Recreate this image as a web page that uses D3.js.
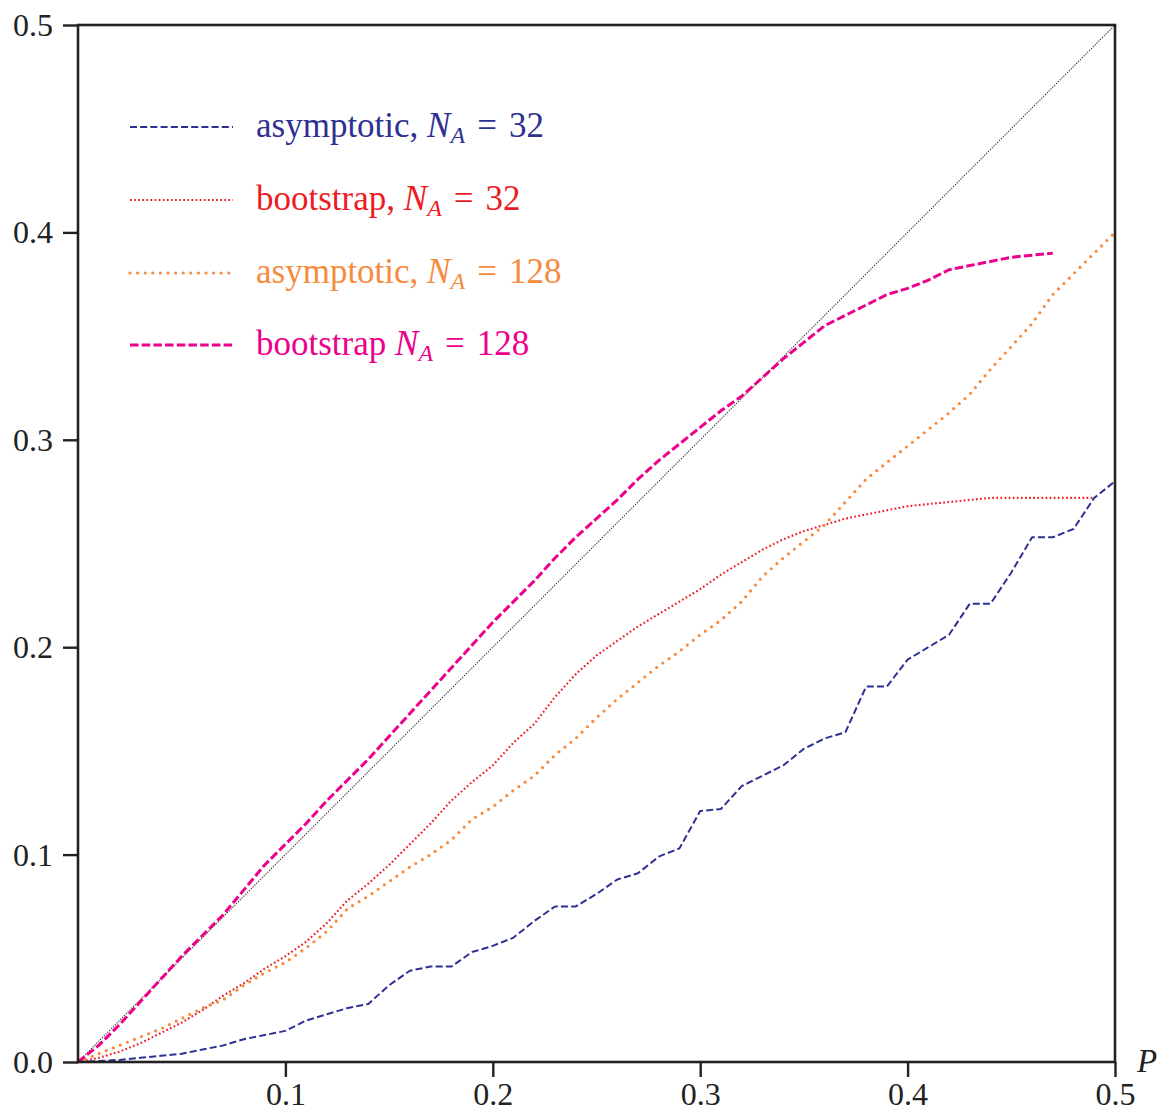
<!DOCTYPE html>
<html>
<head>
<meta charset="utf-8">
<script src="https://cdn.jsdelivr.net/npm/d3@7"></script>
<style>
  html, body { margin: 0; padding: 0; background: #fff; }
  svg { display: block; }
  text { font-family: "Liberation Serif", "DejaVu Serif", serif; }
</style>
</head>
<body>
<svg id="chart" width="1170" height="1115"></svg>
<script>
// ---- data ----
const pValues = [0.00,0.01,0.02,0.03,0.04,0.05,0.06,0.07,0.08,0.09,
                 0.10,0.11,0.12,0.13,0.14,0.15,0.16,0.17,0.18,0.19,
                 0.20,0.21,0.22,0.23,0.24,0.25,0.26,0.27,0.28,0.29,
                 0.30,0.31,0.32,0.33,0.34,0.35,0.36,0.37,0.38,0.39,
                 0.40,0.41,0.42,0.43,0.44,0.45,0.46,0.47,0.48,0.49,0.50];

const asymptotic32 = [0.000,0.0005,0.001,0.002,0.003,0.004,0.006,0.008,0.011,0.013,
                      0.015,0.020,0.023,0.026,0.028,0.037,0.044,0.046,0.046,0.053,
                      0.056,0.060,0.068,0.075,0.075,0.081,0.088,0.091,0.099,0.103,
                      0.121,0.122,0.133,0.138,0.143,0.151,0.156,0.159,0.181,0.181,
                      0.194,0.200,0.206,0.221,0.221,0.236,0.253,0.253,0.257,0.272,0.280];

const bootstrap32 = [0.000,0.002,0.005,0.009,0.014,0.019,0.025,0.032,0.038,0.045,
                     0.051,0.058,0.067,0.078,0.086,0.095,0.105,0.115,0.126,0.135,
                     0.143,0.154,0.163,0.176,0.187,0.196,0.203,0.210,0.216,0.222,
                     0.228,0.235,0.241,0.247,0.252,0.256,0.259,0.262,0.264,0.266,
                     0.268,0.269,0.270,0.271,0.272,0.272,0.272,0.272,0.272,0.272];

const asymptotic128 = [0.000,0.004,0.008,0.012,0.016,0.021,0.026,0.030,0.037,0.043,
                       0.048,0.055,0.063,0.074,0.080,0.087,0.094,0.100,0.107,0.117,
                       0.123,0.131,0.138,0.148,0.156,0.166,0.175,0.183,0.191,0.198,
                       0.206,0.213,0.222,0.234,0.243,0.251,0.259,0.270,0.281,0.289,
                       0.297,0.305,0.313,0.322,0.334,0.345,0.356,0.370,0.380,0.390,0.400];

const bootstrap128 = [0.000,0.008,0.018,0.029,0.040,0.051,0.061,0.071,0.083,0.095,
                      0.105,0.115,0.126,0.136,0.146,0.157,0.168,0.179,0.190,0.201,
                      0.212,0.222,0.232,0.243,0.253,0.262,0.271,0.281,0.290,0.298,
                      0.306,0.314,0.321,0.330,0.339,0.347,0.355,0.360,0.365,0.370,
                      0.373,0.377,0.382,0.384,0.386,0.388,0.389,0.390];

const diagonalP = [0, 0.5];
const diagonalV = [0, 0.5];

const xTicks = [0.1, 0.2, 0.3, 0.4, 0.5];
const yTicks = [0.0, 0.1, 0.2, 0.3, 0.4, 0.5];

const seriesNames = ["asymptotic, ", "bootstrap, ", "asymptotic, ", "bootstrap "];
const seriesN = ["32", "32", "128", "128"];
const seriesColors = ["#2e3192", "#ed1c24", "#f68b3e", "#ec008c"];

// ---- layout ----
const svg = d3.select("#chart");
const plotLeft = 78, plotRight = 1115, plotTop = 25, plotBottom = 1062;
const x = d3.scaleLinear().domain([0, 0.5]).range([plotLeft, plotRight]);
const y = d3.scaleLinear().domain([0, 0.5]).range([plotBottom, plotTop]);

const line = d3.line().x(d => x(d[0])).y(d => y(d[1]));
const pair = (vals) => vals.map((v, i) => [pValues[i], v]);

const styles = [
  { color: seriesColors[0], width: 2.0, dash: "7,3.2", cap: "butt" },
  { color: seriesColors[1], width: 2.1, dash: "1.7,2.4", cap: "butt" },
  { color: seriesColors[2], width: 3.2, dash: "0,7.6", cap: "round" },
  { color: seriesColors[3], width: 3.0, dash: "8.5,3.2", cap: "butt" }
];
const seriesData = [asymptotic32, bootstrap32, asymptotic128, bootstrap128];

// diagonal reference
svg.append("path")
  .datum(diagonalP.map((p, i) => [p, diagonalV[i]]))
  .attr("d", line)
  .attr("fill", "none")
  .attr("stroke", "#444")
  .attr("stroke-width", 1.2)
  .attr("stroke-dasharray", "1.3,1.3");

// series
seriesData.forEach((vals, i) => {
  const s = styles[i];
  svg.append("path")
    .datum(pair(vals))
    .attr("d", line)
    .attr("fill", "none")
    .attr("stroke", s.color)
    .attr("stroke-width", s.width)
    .attr("stroke-dasharray", s.dash)
    .attr("stroke-linecap", s.cap)
    .attr("stroke-linejoin", "round");
});

// axes
const axisColor = "#222";
const xAxis = svg.append("g")
  .attr("transform", `translate(0,${plotBottom})`)
  .call(d3.axisBottom(x).tickValues(xTicks).tickFormat(d3.format(".1f")).tickSize(15).tickPadding(6));
const yAxis = svg.append("g")
  .attr("transform", `translate(${plotLeft},0)`)
  .call(d3.axisLeft(y).tickValues(yTicks).tickFormat(d3.format(".1f")).tickSize(15).tickPadding(10));
[xAxis, yAxis].forEach(g => {
  g.select(".domain").remove();
  g.selectAll(".tick line").attr("stroke", axisColor).attr("stroke-width", 2.4);
  g.selectAll(".tick text")
    .attr("fill", "#222")
    .style("font-family", "'Liberation Serif', serif")
    .style("font-size", "32px");
});
xAxis.selectAll(".tick text").attr("dy", "0.7em");
yAxis.selectAll(".tick text").attr("dy", "0.33em");

// frame
svg.append("rect")
  .attr("x", plotLeft).attr("y", plotTop)
  .attr("width", plotRight - plotLeft).attr("height", plotBottom - plotTop)
  .attr("fill", "none")
  .attr("stroke", axisColor)
  .attr("stroke-width", 2.6);

// axis label P
svg.append("text")
  .attr("x", 1137).attr("y", 1072)
  .attr("font-size", 33)
  .attr("font-style", "italic")
  .attr("fill", "#222")
  .text("P");

// legend
const legendRows = [127, 200, 273, 345];
legendRows.forEach((ly, i) => {
  const s = styles[i];
  svg.append("path")
    .datum([[130, ly], [233, ly]])
    .attr("d", d3.line())
    .attr("fill", "none")
    .attr("stroke", s.color)
    .attr("stroke-width", s.width)
    .attr("stroke-dasharray", s.dash)
    .attr("stroke-linecap", s.cap);

  const t = svg.append("text")
    .attr("x", 256).attr("y", ly + 10)
    .attr("font-size", 35)
    .attr("fill", s.color);
  t.append("tspan").text(seriesNames[i]);
  t.append("tspan").attr("font-style", "italic").text("N");
  t.append("tspan").attr("font-style", "italic").attr("font-size", 24).attr("dy", 6).text("A");
  t.append("tspan").attr("dy", -6).attr("dx", 12).text("=");
  t.append("tspan").attr("dx", 12).text(seriesN[i]);
});
</script>
</body>
</html>
